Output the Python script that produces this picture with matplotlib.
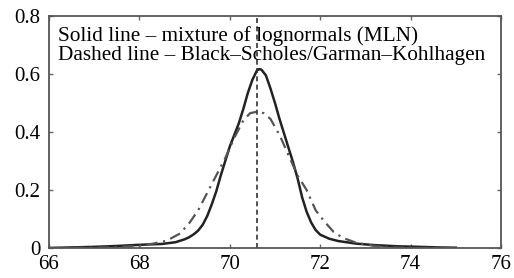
import matplotlib
matplotlib.use("Agg")
import matplotlib.pyplot as plt

# solid: mixture of lognormals (MLN)
mln_x = [66.0, 66.5, 67.0, 67.5, 68.0, 68.5, 68.8, 69.0, 69.1, 69.2, 69.3, 69.4,
         69.5, 69.6, 69.7, 69.8, 69.9, 70.0, 70.1, 70.2, 70.3, 70.4, 70.5, 70.6,
         70.65, 70.7, 70.8, 70.9, 71.0, 71.1, 71.2, 71.3, 71.4, 71.5, 71.6, 71.7,
         71.8, 71.9, 72.0, 72.2, 72.4, 72.8, 73.2, 73.7, 74.2, 74.6, 75.0]
mln_y = [0.0, 0.002, 0.004, 0.007, 0.011, 0.014, 0.02, 0.03, 0.037, 0.047, 0.06, 0.08,
         0.11, 0.15, 0.195, 0.25, 0.30, 0.35, 0.39, 0.43, 0.48, 0.535, 0.58, 0.612,
         0.617, 0.615, 0.595, 0.55, 0.50, 0.445, 0.395, 0.345, 0.295, 0.24, 0.175, 0.125,
         0.088, 0.062, 0.046, 0.032, 0.024, 0.015, 0.010, 0.006, 0.004, 0.002, 0.001]

# dashed: Black-Scholes / Garman-Kohlhagen
bs_x = [66.0, 67.0, 67.5, 68.0, 68.3, 68.6, 68.9, 69.1, 69.3, 69.5, 69.7, 69.9,
        70.1, 70.3, 70.45, 70.6, 70.75, 70.9, 71.1, 71.3, 71.5, 71.7, 71.9, 72.1,
        72.3, 72.5, 72.8, 73.2, 73.6, 74.2, 75.0]
bs_y = [0.0, 0.001, 0.003, 0.008, 0.015, 0.025, 0.05, 0.085, 0.13, 0.19, 0.25, 0.31,
        0.38, 0.44, 0.465, 0.47, 0.465, 0.445, 0.39, 0.32, 0.25, 0.20, 0.13, 0.09,
        0.055, 0.035, 0.018, 0.007, 0.002, 0.0, 0.0]

forward = 70.6

plt.rcParams['font.family'] = ['Liberation Serif', 'DejaVu Serif']

fig = plt.figure(figsize=(5.14, 2.78), dpi=100)
ax = fig.add_axes([0.0953, 0.1079, 0.8794, 0.8345])

ax.plot(mln_x, mln_y, color='#222222', lw=1.8, solid_joinstyle='round')
ax.plot(bs_x, bs_y, color='#555555', lw=1.6, linestyle=(0, (5, 2.5, 1, 2.5)))
ax.axvline(forward, color='#333333', lw=1.2, linestyle=(0, (3, 2)))

ax.set_xlim(66, 76)
ax.set_ylim(0, 0.8)
ax.set_xticks([66, 68, 70, 72, 74, 76])
ax.set_yticks([0, 0.2, 0.4, 0.6, 0.8])
ax.set_yticklabels(['0', '0.2', '0.4', '0.6', '0.8'])
ax.tick_params(direction='in', top=True, right=True, length=3, width=1,
               color='#666666', labelsize=15)
ax.tick_params(axis='x', pad=5)
ax.tick_params(axis='y', pad=6)
for s in ax.spines.values():
    s.set_color('#555555')
    s.set_linewidth(1.3)

ax.text(0.02, 0.955, 'Solid line \u2013 mixture of lognormals (MLN)\n'
        'Dashed line \u2013 Black\u2013Scholes/Garman\u2013Kohlhagen',
        transform=ax.transAxes, ha='left', va='top', fontsize=15.3, linespacing=0.95)

fig.savefig('out.png', dpi=100)
